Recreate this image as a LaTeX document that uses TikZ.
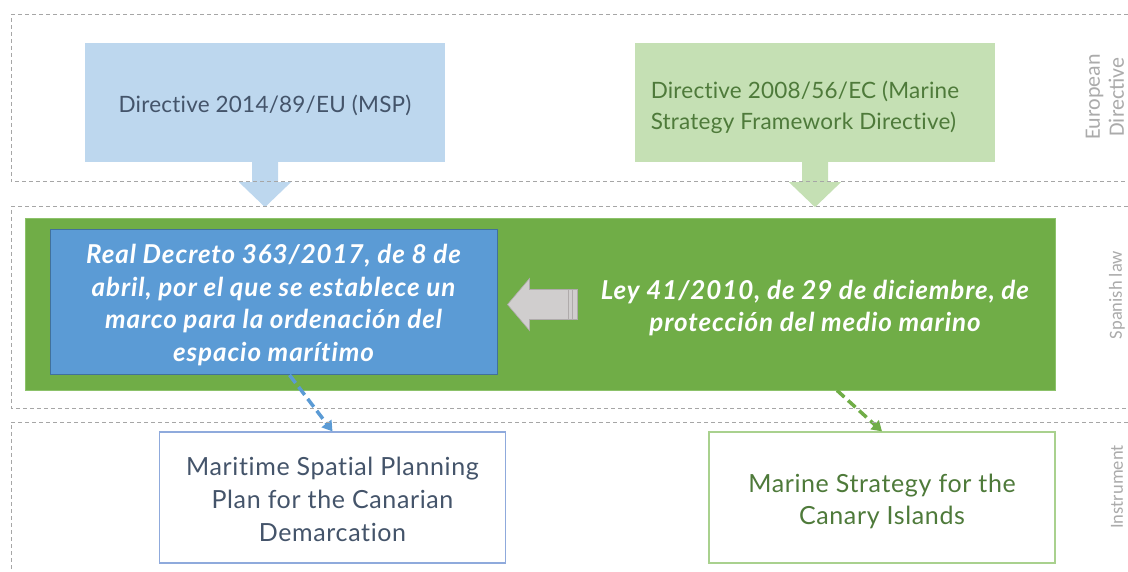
\documentclass[tikz,border=0pt]{standalone}
\usepackage{fontspec}
\setmainfont{Lato}[Ligatures=CommonOff]
\newfontfamily\sidefont{Carlito}
\newfontfamily\lawfont[LetterSpace=3.5,Ligatures=CommonOff]{Lato}
\newfontfamily\instfont[LetterSpace=2.5,Ligatures=CommonOff]{Lato}
\newfontfamily\dirfont[LetterSpace=1,Ligatures=CommonOff]{Lato}
\usetikzlibrary{arrows.meta,calc}
\definecolor{lbfill}{HTML}{BDD7EE}
\definecolor{lgfill}{HTML}{C5E0B4}
\definecolor{darkblue}{HTML}{44546A}
\definecolor{darkgreen}{HTML}{4E7A3A}
\definecolor{mgreen}{HTML}{70AD47}
\definecolor{mgreenedge}{HTML}{8CC26A}
\definecolor{mblue}{HTML}{5B9BD5}
\definecolor{mblueedge}{HTML}{41719C}
\definecolor{arrgray}{HTML}{D0CECE}
\definecolor{arredge}{HTML}{AFABAB}
\definecolor{framegray}{HTML}{A6A6A6}
\definecolor{sidegray}{HTML}{ABABAB}
\definecolor{mspedge}{HTML}{8FAADC}
\definecolor{msedge}{HTML}{A9D18E}
\begin{document}
\begin{tikzpicture}[x=1pt,y=-1pt,
 frameline/.style={draw=framegray,line width=1pt,dash pattern=on 4pt off 3pt},
 dirbox/.style={inner sep=0pt,minimum width=360pt,minimum height=119pt},
 dirtext/.style={inner sep=0pt,font=\dirfont\fontsize{22.5}{31}\selectfont},
 lawtext/.style={text=white,font=\lawfont\fontsize{26}{32.5}\selectfont\bfseries\itshape,align=center},
 instbox/.style={fill=white,line width=1.2pt,inner sep=0pt,minimum width=346pt,minimum height=131pt},
 insttext/.style={inner sep=0pt,font=\instfont\fontsize{25}{32.8}\selectfont,align=center},
 sidelabel/.style={text=sidegray,rotate=90,inner sep=0pt,align=center},
 linkarrow/.style={line width=3.5pt,dash pattern=on 10pt off 5pt,-{Triangle[length=10pt,width=12pt]}}
]
\useasboundingbox (0,0) rectangle (1128,572);

% European directives
\node[dirbox,fill=lbfill] (dmsp) at (265,102.5) {};
\node[dirtext,text=darkblue] (dmspt) at ($(dmsp.center)+(0,3)$) {Directive 2014/89/EU (MSP)};
\node[dirbox,fill=lgfill] (dmsfd) at (815,102.5) {};
\node[dirtext,text=darkgreen,align=left] (dmsfdt) at ($(dmsfd.center)+(-10,5)$) {Directive 2008/56/EC (Marine\\Strategy Framework Directive)};
\foreach \n/\c in {dmsp/lbfill,dmsfd/lgfill}
  \fill[\c] (\n.south) ++(-13,-0.5) -- ++(0,20.5) -- ++(-13,0) -- ++(26,25) -- ++(26,-25) -- ++(-13,0) -- ++(0,-20.5) -- cycle;

% Spanish law
\node[fill=mgreen,draw=mgreenedge,line width=0.8pt,minimum width=1030pt,minimum height=172pt,inner sep=0pt] (law) at (540,304) {};
\node[fill=mblue,draw=mblueedge,line width=1pt,minimum width=447pt,minimum height=145pt,inner sep=0pt] (dec) at (273.5,302) {};
\node[lawtext] (dect) at ($(dec.center)+(0,3)$) {Real Decreto 363/2017, de 8 de\\abril, por el que se establece un\\marco para la ordenación del\\espacio marítimo};
\node[lawtext] (ley) at (815,308) {Ley 41/2010, de 29 de diciembre, de\\protección del medio marino};

\coordinate (gtip) at ($(dec.east)+(10,2.5)$);
\draw[fill=arrgray,draw=arredge,line width=0.6pt] (gtip) -- ++(22,-26) -- ++(0,11) -- ++(48,0) -- ++(0,30) -- ++(-48,0) -- ++(0,11) -- cycle;
\draw[arredge,line width=0.6pt] ($(gtip)+(61,-15)$) -- ++(0,30);
\draw[arredge,line width=0.6pt] ($(gtip)+(65,-15)$) -- ++(0,30);

% Instruments
\node[instbox,draw=mspedge] (msp) at (332.5,497.5) {};
\node[insttext,text=darkblue] (mspt) at ($(msp.center)+(0,2)$) {Maritime Spatial Planning\\Plan for the Canarian\\Demarcation};
\node[instbox,draw=msedge] (ms) at (882,497.5) {};
\node[insttext,text=darkgreen] (mst) at ($(ms.center)+(0,4)$) {Marine Strategy for the\\Canary Islands};

\draw[linkarrow,mblue] ($(dec.south)+(16,0)$) -- (msp.north);
\draw[linkarrow,mgreen] ($(ley.south |- law.south)+(22,0)$) -- (ms.north);

% frames
\draw[frameline] (1128,15) -- (11,15) -- (11,182) -- (1128,182);
\draw[frameline] (1128,207) -- (11,207) -- (11,408) -- (1128,408);
\draw[frameline] (1128,422) -- (11,422) -- (11,580);

% side labels
\node[sidelabel,font=\sidefont\fontsize{22}{24}\selectfont] (leu) at (1105,97) {European\\Directive};
\node[sidelabel,font=\sidefont\fontsize{18.5}{20}\selectfont] (lsp) at (1117,295) {Spanish law};
\node[sidelabel,font=\sidefont\fontsize{18.5}{20}\selectfont] (lin) at (1117,487) {Instrument};
\end{tikzpicture}
\end{document}
